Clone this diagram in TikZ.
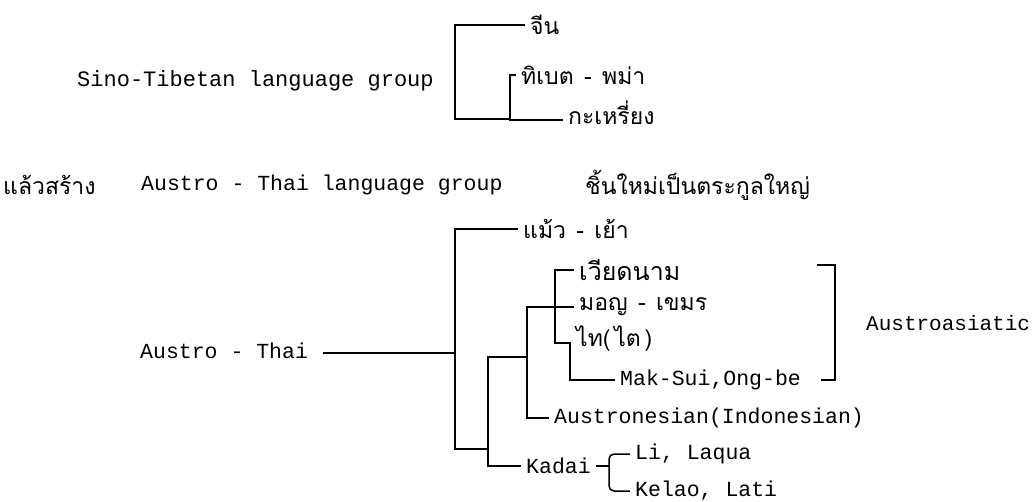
\documentclass[tikz,border=0pt]{standalone}
\usepackage{fontspec}
\setmonofont{Liberation Mono}
\newfontfamily\thaifont[Script=Thai]{Loma}
\tikzset{
  en/.style={font=\ttfamily\fontsize{21.5}{24}\selectfont, anchor=west, inner xsep=6pt, inner ysep=0pt},
  th/.style={font=\thaifont\fontsize{23}{26}\selectfont, anchor=west, inner xsep=6pt, inner ysep=0pt},
  ln/.style={line width=1.5pt, line cap=rect}
}
\newcommand{\dsh}{\hspace{0.45em}-\hspace{0.45em}}
\begin{document}
\begin{tikzpicture}[x=1pt,y=-1pt]
\useasboundingbox (0,0) rectangle (1034,501);
% ---------- top tree ----------
\node[en, font=\ttfamily\fontsize{22}{24}\selectfont] (st) at (71,81) {Sino-Tibetan language group};
\node[th] (jin) at (524,25) {จีน};
\node[th] (tib) at (515,75) {ทิเบต\dsh พม่า};
\node[th] (kar) at (562,113) {กะเหรี่ยง};
\coordinate (ta) at (455,119);
\coordinate (tt) at (510,75);
\coordinate (tb) at (510,120);
\draw[ln] (jin.west) -| (ta) -- (ta -| tt);
\draw[ln] (tib.west) -- (tt) -- (tb) -- (tb -| kar.west);
% ---------- middle line ----------
\node[th, inner xsep=1pt] (lw) at (2,185) {แล้วสร้าง};
\node[en] (atg) at (135,185) {Austro - Thai language group};
\node[th] (new) at (579,185) {ชิ้นใหม่เป็นตระกูลใหญ่};
% ---------- bottom tree ----------
\node[en] (at) at (134,351) {Austro - Thai};
\coordinate (atl) at (324,353);
\coordinate (v1t) at (455,229);
\coordinate (v1b) at (455,449);
\coordinate (v2t) at (488,357);
\coordinate (v2b) at (488,466);
\coordinate (v3t) at (527,307);
\coordinate (v3b) at (527,418);
\coordinate (v4t) at (555,270);
\coordinate (v4b) at (555,343);
\coordinate (v5b) at (570,380);
\node[th] (my) at (517,229) {แม้ว\dsh เย้า};
\node[th, font=\thaifont\fontsize{25}{26}\selectfont] (viet) at (573,270) {เวียดนาม};
\node[th] (mon) at (573,307) {มอญ\dsh เขมร};
\node[th] (tai) at (570,339) {ไท(\thinspace ไต\thinspace)};
\node[en] (mak) at (614,380) {Mak-Sui,Ong-be};
\node[en] (ausn) at (548,418) {Austronesian(Indonesian)};
\node[en] (kadai) at (520,466) {Kadai};
\node[en] (li) at (629,454) {Li, Laqua};
\node[en] (kelao) at (629,491) {Kelao, Lati};
\node[en, font=\ttfamily\fontsize{21}{24}\selectfont] (aa) at (860,323) {Austroasiatic};
\draw[ln] (atl) -- (atl -| v1t);
\draw[ln] (my.west) -- (v1t) -- (v1b) -- (v1b -| v2t);
\draw[ln] (v2t -| v3t) -- (v2t) -- (v2b) -- (kadai.west);
\draw[ln] (v3t -| v4t) -- (v3t) -- (v3b) -- (ausn.west);
\draw[ln] (viet.west) -- (v4t) -- (v4b) -- (v4b -| v5b) -- (v5b) -- (mak.west);
\draw[ln] (v4t |- mon.west) -- (mon.west);
% Kadai bracket
\coordinate (kd) at (609,466);
\draw[ln] (kadai.east) -- (kd);
\draw[ln, rounded corners=5pt] (li.west) -- (li.west -| kd) -- (kelao.west -| kd) -- (kelao.west);
% Austroasiatic bracket
\coordinate (aa1) at (818,265);
\coordinate (aa2) at (835,265);
\coordinate (aa3) at (835,380);
\coordinate (aa4) at (822,380);
\draw[ln] (aa1) -- (aa2) -- (aa3) -- (aa4);
\end{tikzpicture}
\end{document}
